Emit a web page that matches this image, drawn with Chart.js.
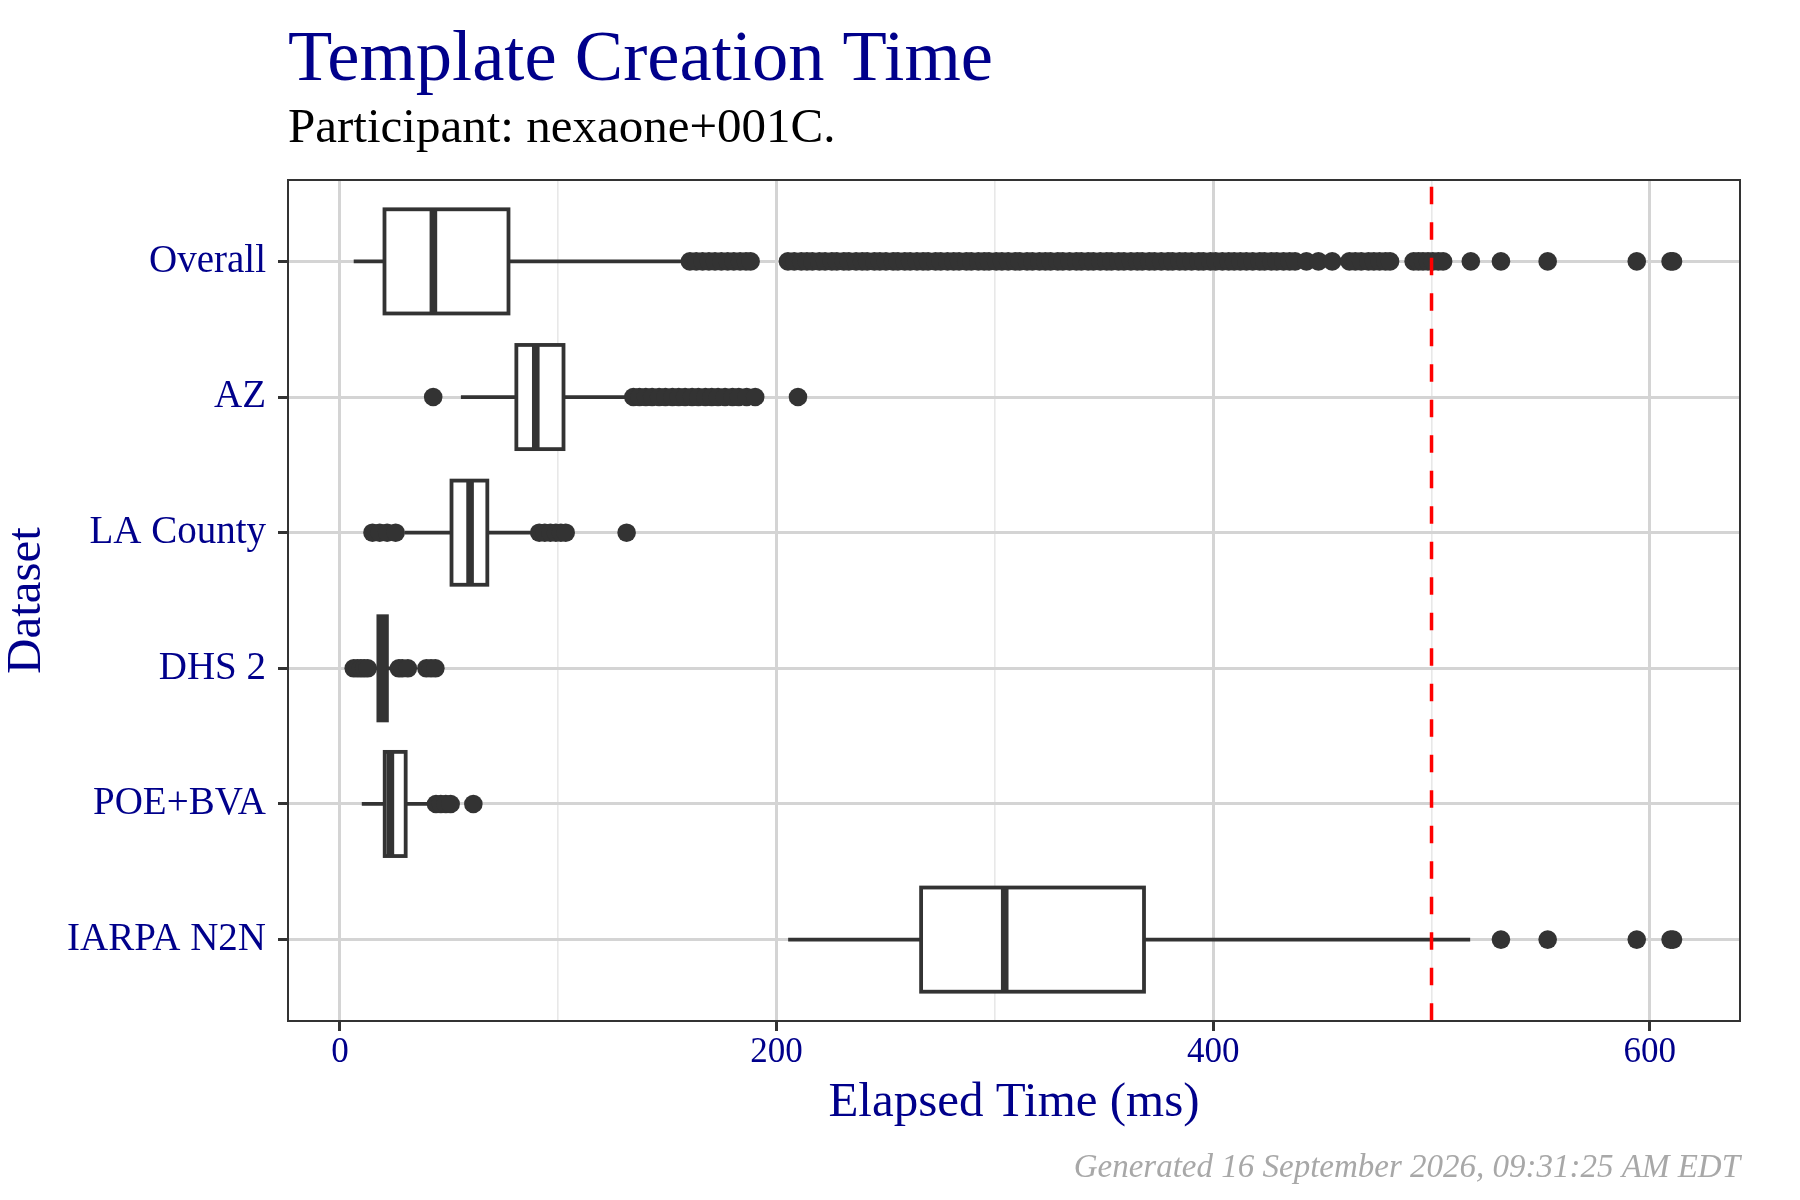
<!DOCTYPE html>
<html lang="en">

<head>
  <meta charset="UTF-8">
  <title>Template Creation Time</title>
  <script src="https://cdn.jsdelivr.net/npm/chart.js"></script>
  <style>
    body {
      margin: 0;
      background: #ffffff;
    }

    #chartContainer {
      width: 1800px;
      height: 1200px;
    }
  </style>
</head>

<body>
  <div id="chartContainer">
    <canvas id="boxCanvas"></canvas>
  </div>

  <script>
    // Text
    const TITLE = 'Template Creation Time';
    const SUBTITLE = 'Participant: nexaone+001C.';
    const X_TITLE = 'Elapsed Time (ms)';
    const Y_TITLE = 'Dataset';
    const FOOTER = 'Generated 16 September 2026, 09:31:25 AM EDT';

    // Box plot summaries, one entry per dataset (top to bottom)
    const CATEGORIES = ['Overall', 'AZ', 'LA County', 'DHS 2', 'POE+BVA', 'IARPA N2N'];
    const WHISKER_LOW = [6.3, 55.4, 29.6, 13.6, 10.0, 205.3];
    const Q1 = [20.4, 80.8, 51.1, 17.6, 20.5, 266.2];
    const MEDIAN = [42.8, 89.7, 59.6, 19.5, 23.1, 304.5];
    const Q3 = [77.2, 102.4, 67.5, 21.5, 30.1, 368.3];
    const WHISKER_HIGH = [157.0, 130.6, 87.5, 25.8, 40.5, 517.7];

    // Outliers
    const OUTLIERS_OVERALL = [
      160.3, 163.2, 166.1, 169.0, 171.8, 174.7, 177.6, 180.4, 183.3, 186.0, 188.1,
      205.2, 208.1, 211.3, 213.9, 216.4, 219.6, 222.2, 225.3, 227.6, 230.8,
      233.1, 236.4, 239.2, 241.5, 244.8, 247.3, 250.1, 253.4, 255.6, 258.7,
      261.2, 264.3, 267.1, 269.4, 272.8, 275.2, 278.3, 281.1, 283.6, 286.9,
      289.2, 292.4, 295.1, 297.3, 300.6, 303.2, 306.1, 309.3, 311.4, 314.7,
      317.2, 320.4, 323.1, 325.5, 328.8, 331.1, 334.2, 337.3, 339.6, 342.7,
      345.1, 348.3, 351.2, 353.4, 356.6, 359.1, 362.3, 365.2, 367.5, 370.7,
      373.1, 376.2, 379.3, 381.4, 384.6, 387.2, 390.1, 393.3, 395.5, 398.7,
      401.1, 404.2, 407.1, 409.6, 412.4, 415.2, 418.1, 421.3, 423.5, 426.6,
      429.1, 432.2, 435.0, 437.5, 442.7, 448.2, 454.5,
      462.4, 465.1, 467.8, 471.1, 473.6, 476.2, 478.9, 481.0,
      491.8, 494.0, 496.1, 498.4, 500.6, 503.1, 505.3,
      518.0, 531.8, 553.2, 594.0, 609.5, 610.6
    ];
    const OUTLIERS_AZ = [
      42.7,
      134.4, 137.2, 140.1, 143.0, 146.2, 149.1, 152.3, 155.2, 158.1, 161.3,
      164.2, 167.4, 170.3, 173.2, 176.4, 179.8, 182.7, 186.3, 190.2,
      209.8
    ];
    const OUTLIERS_LA = [14.9, 18.2, 21.6, 25.5, 91.3, 93.8, 96.4, 98.9, 101.2, 103.4, 131.3];
    const OUTLIERS_DHS2 = [6.3, 8.0, 9.6, 11.1, 12.7, 27.0, 28.6, 31.1, 39.6, 41.7, 43.7];
    const OUTLIERS_POE = [44.0, 46.2, 48.5, 50.7, 61.1];
    const OUTLIERS_IARPA = [531.8, 553.2, 594.0, 609.5, 610.6];
    const OUTLIERS = [OUTLIERS_OVERALL, OUTLIERS_AZ, OUTLIERS_LA, OUTLIERS_DHS2, OUTLIERS_POE, OUTLIERS_IARPA];

    // Axis ticks and the reference line
    const X_MAJOR_TICKS = [0, 200, 400, 600];
    const X_MINOR_TICKS = [100, 300, 500];
    const THRESHOLD_MS = 500;

    // Styles
    const BLUE = '#00008B';
    const DARK = '#333333';
    const SERIF = '"Liberation Serif", "DejaVu Serif", serif';
    const BOX_HALF = 0.384;   // half box height, in category units

    // Flatten the outliers for the scatter dataset
    const outlierPoints = [];
    OUTLIERS.forEach((values, i) => {
      values.forEach(v => outlierPoints.push({ x: v, y: i }));
    });

    // Boxes, whiskers and medians drawn through the chart scales
    const boxPlugin = {
      id: 'boxes',
      beforeDatasetsDraw(chart) {
        const ctx = chart.ctx;
        const xs = chart.scales.x;
        const ys = chart.scales.y;
        ctx.save();
        ctx.strokeStyle = DARK;
        ctx.lineJoin = 'miter';
        ctx.lineCap = 'butt';
        CATEGORIES.forEach((c, i) => {
          const yc = ys.getPixelForValue(i);
          const half = Math.abs(ys.getPixelForValue(i + BOX_HALF) - yc);
          const xLow = xs.getPixelForValue(WHISKER_LOW[i]);
          const xQ1 = xs.getPixelForValue(Q1[i]);
          const xMed = xs.getPixelForValue(MEDIAN[i]);
          const xQ3 = xs.getPixelForValue(Q3[i]);
          const xHigh = xs.getPixelForValue(WHISKER_HIGH[i]);

          ctx.lineWidth = 3.8;
          ctx.beginPath();
          ctx.moveTo(xLow, yc);
          ctx.lineTo(xQ1, yc);
          ctx.moveTo(xQ3, yc);
          ctx.lineTo(xHigh, yc);
          ctx.stroke();

          ctx.fillStyle = '#ffffff';
          ctx.fillRect(xQ1, yc - half, xQ3 - xQ1, 2 * half);
          ctx.strokeRect(xQ1, yc - half, xQ3 - xQ1, 2 * half);

          ctx.lineWidth = 7.6;
          ctx.beginPath();
          ctx.moveTo(xMed, yc - half);
          ctx.lineTo(xMed, yc + half);
          ctx.stroke();
        });
        ctx.restore();
      },
      afterDatasetsDraw(chart) {
        // dashed red threshold line
        const ctx = chart.ctx;
        const area = chart.chartArea;
        const x = chart.scales.x.getPixelForValue(THRESHOLD_MS);
        ctx.save();
        ctx.strokeStyle = '#FF0000';
        ctx.lineWidth = 3.5;
        ctx.setLineDash([17.5, 18]);
        ctx.lineDashOffset = 35.5 - 6.7;
        ctx.beginPath();
        ctx.moveTo(x, area.top);
        ctx.lineTo(x, area.bottom);
        ctx.stroke();
        ctx.restore();
      },
      afterDraw(chart) {
        const ctx = chart.ctx;
        const area = chart.chartArea;
        ctx.save();
        // panel border
        ctx.strokeStyle = DARK;
        ctx.lineWidth = 2;
        ctx.strokeRect(area.left, area.top, area.right - area.left, area.bottom - area.top);

        // titles and footer
        ctx.textBaseline = 'alphabetic';
        ctx.textAlign = 'left';
        ctx.fillStyle = BLUE;
        ctx.font = '72.5px ' + SERIF;
        ctx.fillText(TITLE, area.left, 80);
        ctx.fillStyle = '#000000';
        ctx.font = '49px ' + SERIF;
        ctx.fillText(SUBTITLE, area.left, 142);
        ctx.textAlign = 'right';
        ctx.fillStyle = '#A8A8A8';
        ctx.font = 'italic 33px ' + SERIF;
        ctx.fillText(FOOTER, area.right, 1177);
        ctx.restore();
      }
    };

    const isMajor = (v) => X_MAJOR_TICKS.includes(v);

    const ctx = document.getElementById('boxCanvas').getContext('2d');
    const chart = new Chart(ctx, {
      type: 'scatter',
      data: {
        datasets: [{
          label: 'Outliers',
          data: outlierPoints,
          pointRadius: 9.3,
          pointHoverRadius: 9.3,
          backgroundColor: DARK,
          borderWidth: 0
        }]
      },
      options: {
        responsive: true,
        maintainAspectRatio: false,
        devicePixelRatio: 1,
        animation: false,
        layout: {
          padding: { top: 180, right: 60, bottom: 0, left: 0 }
        },
        plugins: {
          legend: { display: false },
          tooltip: { enabled: false }
        },
        scales: {
          x: {
            type: 'linear',
            position: 'bottom',
            min: -23.8,
            max: 641.3,
            afterBuildTicks: (scale) => {
              scale.ticks = X_MAJOR_TICKS.concat(X_MINOR_TICKS)
                .sort((a, b) => a - b)
                .map(v => ({ value: v }));
            },
            afterFit: (scale) => { scale.height = 179; },
            ticks: {
              autoSkip: false,
              maxRotation: 0,
              padding: 1.2,
              color: BLUE,
              font: { family: SERIF, size: 35 },
              callback: (value) => isMajor(value) ? String(value) : ''
            },
            grid: {
              color: (c) => isMajor(c.tick.value) ? '#D4D4D4' : '#E8E8E8',
              lineWidth: (c) => isMajor(c.tick.value) ? 3 : 1.6,
              tickColor: (c) => isMajor(c.tick.value) ? DARK : 'rgba(0,0,0,0)',
              tickLength: 10,
              tickWidth: 3
            },
            border: { display: false },
            title: {
              display: true,
              text: X_TITLE,
              color: BLUE,
              font: { family: SERIF, size: 49 },
              padding: { top: 0, bottom: 67.8 }
            }
          },
          y: {
            type: 'linear',
            min: -0.6,
            max: 5.6,
            reverse: true,
            afterBuildTicks: (scale) => {
              scale.ticks = CATEGORIES.map((c, i) => ({ value: i }));
            },
            afterFit: (scale) => { scale.width = 288; },
            ticks: {
              autoSkip: false,
              padding: 12,
              color: BLUE,
              font: { family: SERIF, size: 39 },
              callback: (value) => CATEGORIES[value]
            },
            grid: {
              color: '#D4D4D4',
              lineWidth: 3,
              tickColor: DARK,
              tickLength: 10,
              tickWidth: 3
            },
            border: { display: false },
            title: {
              display: true,
              text: Y_TITLE,
              color: BLUE,
              font: { family: SERIF, size: 49 },
              padding: { top: -2, bottom: 0 }
            }
          }
        }
      },
      plugins: [boxPlugin]
    });
  </script>
</body>

</html>
